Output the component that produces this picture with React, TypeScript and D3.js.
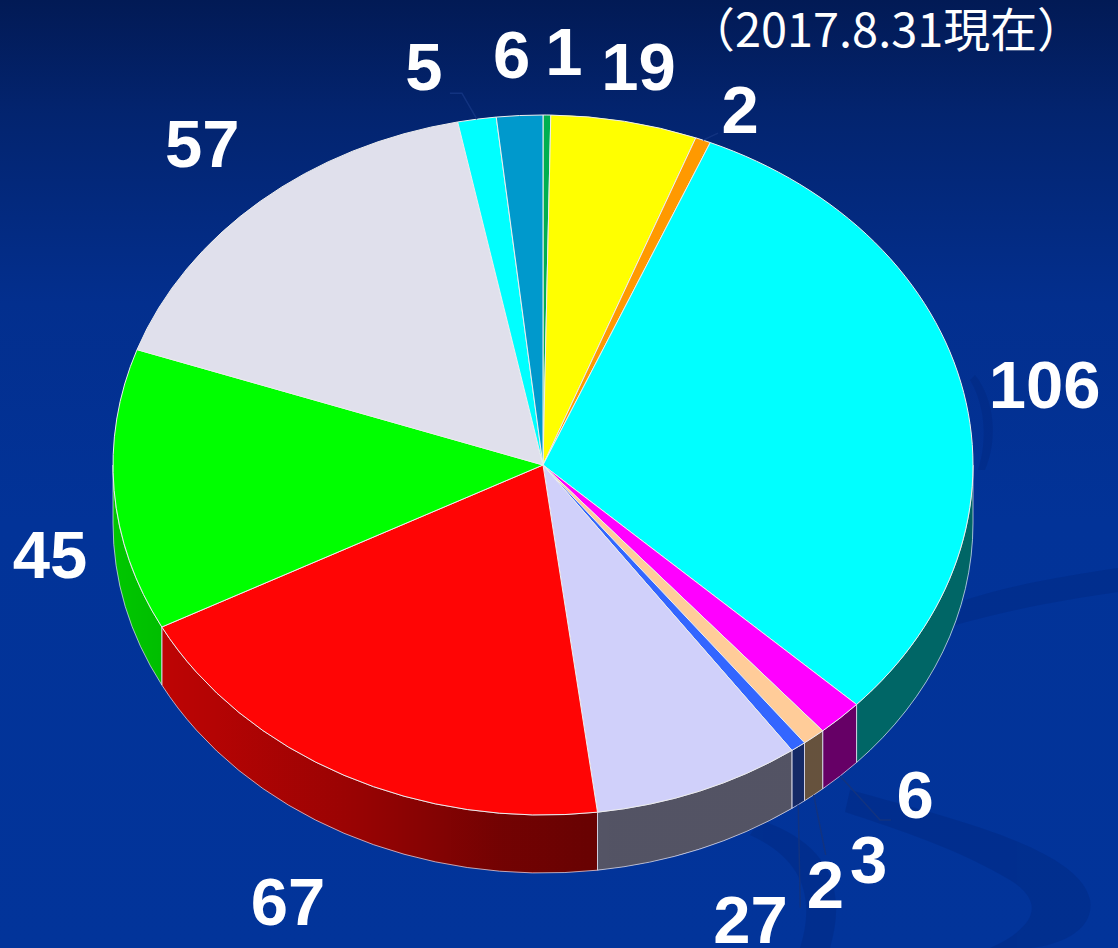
import React from "react";
import * as d3 from "d3";

const W = 1118;
const H = 948;

// Slice values, clockwise from 12 o'clock
const values = [1, 19, 2, 106, 6, 3, 2, 27, 67, 45, 57, 5, 6];
const labels = ["1", "19", "2", "106", "6", "3", "2", "27", "67", "45", "57", "5", "6"];
const colors = [
  "#00b050", "#ffff00", "#ff9900", "#00ffff", "#ff00ff", "#ffcc99", "#3366ff",
  "#d0d0fa", "#ff0505", "#00ff00", "#e0e0ec", "#00ffff", "#0099cc",
];
// label nudges relative to the slice's outer top rim point at mid-angle
const labelDx = [17, 14, 37, 81, 75, 55, 27, 51, -56, -64, -58, -53, -8];
const labelDy = [-40, -31, -7, 16, 100, 146, 161, 152, 150, 88, -34, -29, -38];
// leader lines: slice index, elbow offset from label, horizontal tail
const leaderSlices = [11, 2, 4, 5, 6];
const leaderElbowDx = [38, -22, -35, -43, -25];
const leaderElbowDy = [3, 0, 2, -28, 0];
const leaderTail = [-12, 0, 11, 0, 0];
const noteText = "（2017.8.31現在）";

const cx = 543;
const cy = 465;
const rx = 430;
const ry = 350;
const depth = 58;

function pt(a: number, dy = 0): [number, number] {
  return [cx + rx * Math.sin(a), cy - ry * Math.cos(a) + dy];
}

export default function App() {
  const pie = d3.pie<number>().sort(null).value((d) => d);
  const arcs = pie(values);

  const topPath = (s: number, e: number) => {
    const [x0, y0] = pt(s);
    const [x1, y1] = pt(e);
    const large = e - s > Math.PI ? 1 : 0;
    return `M${cx},${cy}L${x0},${y0}A${rx},${ry} 0 ${large} 1 ${x1},${y1}Z`;
  };
  const sidePath = (s: number, e: number) => {
    const s2 = Math.max(s, Math.PI / 2);
    const e2 = Math.min(e, (3 * Math.PI) / 2);
    if (e2 <= s2) return null;
    const [x0, y0] = pt(s2);
    const [x1, y1] = pt(e2);
    return `M${x0},${y0}A${rx},${ry} 0 0 1 ${x1},${y1}L${x1},${y1 + depth}A${rx},${ry} 0 0 0 ${x0},${y0 + depth}Z`;
  };
  const fullSide = sidePath(Math.PI / 2, (3 * Math.PI) / 2)!;

  const lab = arcs.map((a, i) => {
    const mid = (a.startAngle + a.endAngle) / 2;
    const onSide = mid > Math.PI / 2 && mid < (3 * Math.PI) / 2;
    const [px, py] = pt(mid);
    return { mid, onSide, px, py: onSide ? py + depth : py, lx: px + labelDx[i], ly: py + labelDy[i] };
  });

  return (
    <svg width={W} height={H} style={{ position: "fixed", left: 0, top: 0, display: "block" }}>
      <defs>
        <linearGradient id="bg" x1="0" y1="0" x2="0" y2="1">
          <stop offset="0" stopColor="#021a55" />
          <stop offset="0.12" stopColor="#03246f" />
          <stop offset="0.32" stopColor="#032f8e" />
          <stop offset="0.55" stopColor="#023398" />
          <stop offset="1" stopColor="#02349a" />
        </linearGradient>
        <linearGradient id="shade" gradientUnits="userSpaceOnUse" x1={cx - rx} y1="0" x2={cx + rx} y2="0">
          <stop offset="0" stopColor="#000" stopOpacity="0.22" />
          <stop offset="0.28" stopColor="#000" stopOpacity="0.4" />
          <stop offset="0.45" stopColor="#000" stopOpacity="0.55" />
          <stop offset="0.58" stopColor="#000" stopOpacity="0.6" />
          <stop offset="1" stopColor="#000" stopOpacity="0.6" />
        </linearGradient>
      </defs>
      <rect x={0} y={0} width={W} height={H} fill="url(#bg)" />
      {/* subtle background swooshes */}
      <g fill="#001f6e" opacity={0.25}>
        <path d="M965,600 C1010,585 1070,575 1118,568 L1118,592 C1060,600 1010,610 955,625 Z" />
        <path d="M850,790 C960,820 1080,850 1090,900 C1095,930 1060,945 1030,948 L990,948 C1030,930 1050,905 1010,880 C960,850 900,830 845,812 Z" />
        <path d="M760,820 C820,840 850,880 830,948 L800,948 C815,900 805,860 750,835 Z" />
        <path d="M975,375 C995,400 998,440 985,470 L978,470 C988,440 985,405 970,380 Z" />
      </g>
      {/* side walls */}
      {arcs.map((a, i) => {
        const d = sidePath(a.startAngle, a.endAngle);
        return d ? <path key={`s${i}`} d={d} fill={colors[i]} /> : null;
      })}
      <path d={fullSide} fill="url(#shade)" />
      {arcs.map((a, i) => {
        const d = sidePath(a.startAngle, a.endAngle);
        return d ? (
          <path key={`so${i}`} d={d} fill="none" stroke="#d8d8e8" strokeOpacity={0.75} strokeWidth={1} />
        ) : null;
      })}
      {/* top faces */}
      {arcs.map((a, i) => (
        <path key={`t${i}`} d={topPath(a.startAngle, a.endAngle)} fill={colors[i]} stroke="#eeeeee" strokeWidth={1} strokeLinejoin="round" />
      ))}
      {/* leader lines */}
      <g fill="none" stroke="#123380" strokeWidth={1.5}>
        {leaderSlices.map((si, k) => {
          const l = lab[si];
          const ex = l.lx + leaderElbowDx[k];
          const ey = l.ly + leaderElbowDy[k];
          return (
            <polyline key={`l${k}`} points={`${l.px},${l.py} ${ex},${ey} ${ex + leaderTail[k]},${ey}`} />
          );
        })}
      </g>
      {/* labels */}
      <g fill="#ffffff" fontFamily="'Liberation Sans', Arial, sans-serif" fontWeight="bold" fontSize={67} textAnchor="middle">
        {lab.map((l, i) => (
          <text key={`lb${i}`} x={l.lx} y={l.ly}>
            {labels[i]}
          </text>
        ))}
      </g>
      <text
        x={688}
        y={47}
        fill="#ffffff"
        fontFamily="'Noto Sans CJK JP', sans-serif"
        fontSize={47}
        textLength={396}
        lengthAdjust="spacingAndGlyphs"
      >
        {noteText}
      </text>
    </svg>
  );
}
